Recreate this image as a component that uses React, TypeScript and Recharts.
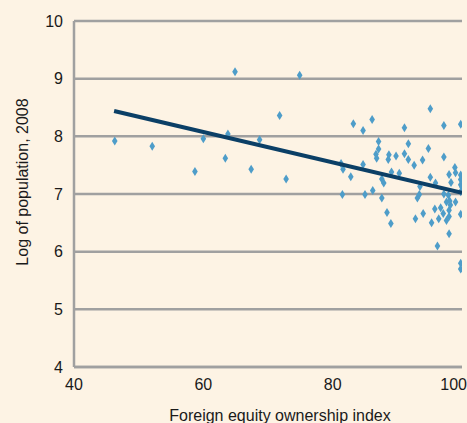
import React from "react";
import { ScatterChart, Scatter, XAxis, YAxis, CartesianGrid } from "recharts";

const ownershipIndex: number[] = [
  46.3, 52.1, 58.7, 60.0, 63.4, 63.8, 64.9, 67.4, 68.7, 71.8, 72.8, 74.9,
  81.3, 81.6, 81.5, 82.8, 83.2, 84.7, 84.7, 85.0, 86.1, 86.2, 86.7, 86.8,
  87.1, 87.1, 87.6, 87.9, 87.6, 88.4, 88.6, 88.7, 89.0, 89.1, 89.8, 90.3,
  91.1, 91.1, 91.7, 91.7, 92.6, 92.8, 93.1, 93.4, 93.5, 93.9, 94.0, 94.8,
  95.1, 95.1, 95.3, 95.8, 95.9, 96.2, 96.4, 96.7, 97.1, 97.2, 97.2, 97.2,
  97.6, 97.6, 97.9, 98.0, 98.0, 98.0, 98.0, 98.2, 98.1, 98.3, 98.9, 99.0,
  99.0, 99.8, 99.8, 99.8, 99.8, 99.8, 99.8, 99.8, 99.8, 100.0,
];

const logPopulation: number[] = [
  7.92, 7.83, 7.39, 7.96, 7.62, 8.04, 9.12, 7.43, 7.94, 8.36, 7.26, 9.06,
  7.53, 7.43, 6.99, 7.3, 8.22, 8.1, 7.51, 6.99, 8.29, 7.06, 7.69, 7.62,
  7.91, 7.78, 7.26, 7.19, 6.93, 6.68, 7.6, 7.68, 6.49, 7.38, 7.66, 7.36,
  8.15, 7.7, 7.87, 7.6, 7.5, 6.57, 6.93, 6.99, 7.13, 7.59, 6.66, 7.79,
  8.48, 7.29, 6.5, 6.74, 7.19, 6.1, 6.57, 6.76, 6.66, 8.19, 7.64, 7.0,
  6.54, 6.86, 6.98, 7.34, 6.72, 6.31, 6.61, 6.81, 6.88, 7.2, 7.46, 7.37,
  6.86, 8.21, 7.33, 7.25, 7.16, 7.04, 6.65, 5.8, 5.7, 7.12,
];

const trendX: number[] = [46.2, 100];
const trendY: number[] = [8.44, 7.02];

const xTicks: number[] = [40, 60, 80, 100];
const yTicks: number[] = [4, 5, 6, 7, 8, 9, 10];

const xLabel = "Foreign equity ownership index";
const yLabel = "Log of population, 2008";

const points = ownershipIndex.map((x, i) => ({ x, y: logPopulation[i] }));
const trend = trendX.map((x, i) => ({ x, y: trendY[i] }));

const FONT = "'Liberation Sans Narrow', 'Liberation Sans', Arial, sans-serif";
const TEXT = "#1a1a1a";
const GRID = "#a0a0a0";

const Diamond = (props: any) => {
  const { cx, cy } = props;
  if (cx == null || cy == null) return null;
  return (
    <path
      d={`M${cx},${cy - 4.5} L${cx + 2.8},${cy} L${cx},${cy + 4.5} L${cx - 2.8},${cy} Z`}
      fill="#4e9dc9"
    />
  );
};

const NoShape = () => null;

const XTick = (props: any) => {
  const { x, y, payload, index } = props;
  const last = index === xTicks.length - 1;
  return (
    <text
      x={last ? x + 5 : x}
      y={y}
      dy="0.71em"
      textAnchor={last ? "end" : "middle"}
      fill={TEXT}
      fontSize={16}
      fontFamily={FONT}
    >
      {payload.value}
    </text>
  );
};

const YLabel = (props: any) => {
  const vb = props.viewBox || { x: 24, y: 21, width: 50, height: 346 };
  const cx = vb.x - 2;
  const cy = vb.y + vb.height / 2 - 12;
  return (
    <text
      x={cx}
      y={cy}
      transform={`rotate(-90, ${cx}, ${cy})`}
      textAnchor="middle"
      dominantBaseline="central"
      fill={TEXT}
      fontSize={16}
      fontFamily={FONT}
    >
      {yLabel}
    </text>
  );
};

export default function App() {
  return (
    <div style={{ position: "absolute", left: 0, top: 0, width: 467, height: 423, background: "#fdf3e4" }}>
      <ScatterChart width={467} height={423} margin={{ top: 21, right: 5, bottom: 0, left: 24 }}>
        <CartesianGrid horizontal vertical={false} stroke={GRID} strokeWidth={2.5} />
        <XAxis
          type="number"
          dataKey="x"
          domain={[40, 100]}
          ticks={xTicks}
          interval={0}
          tickLine={false}
          axisLine={{ stroke: GRID, strokeWidth: 2.5 }}
          tick={<XTick />}
          tickMargin={6}
          height={56}
          allowDataOverflow
          label={{
            value: xLabel,
            position: "insideBottom",
            offset: 2,
            dx: 12,
            style: { fill: TEXT, fontSize: 16, fontFamily: FONT },
          }}
        />
        <YAxis
          type="number"
          dataKey="y"
          domain={[4, 10]}
          ticks={yTicks}
          interval={0}
          tickLine={false}
          axisLine={{ stroke: GRID, strokeWidth: 2.5 }}
          tick={{ fill: TEXT, fontSize: 16, fontFamily: FONT }}
          tickMargin={5}
          width={50}
          label={<YLabel />}
        />
        <Scatter data={points} shape={<Diamond />} isAnimationActive={false} />
        <Scatter
          data={trend}
          line={{ stroke: "#0b3f66", strokeWidth: 4 }}
          shape={<NoShape />}
          isAnimationActive={false}
        />
      </ScatterChart>
    </div>
  );
}
